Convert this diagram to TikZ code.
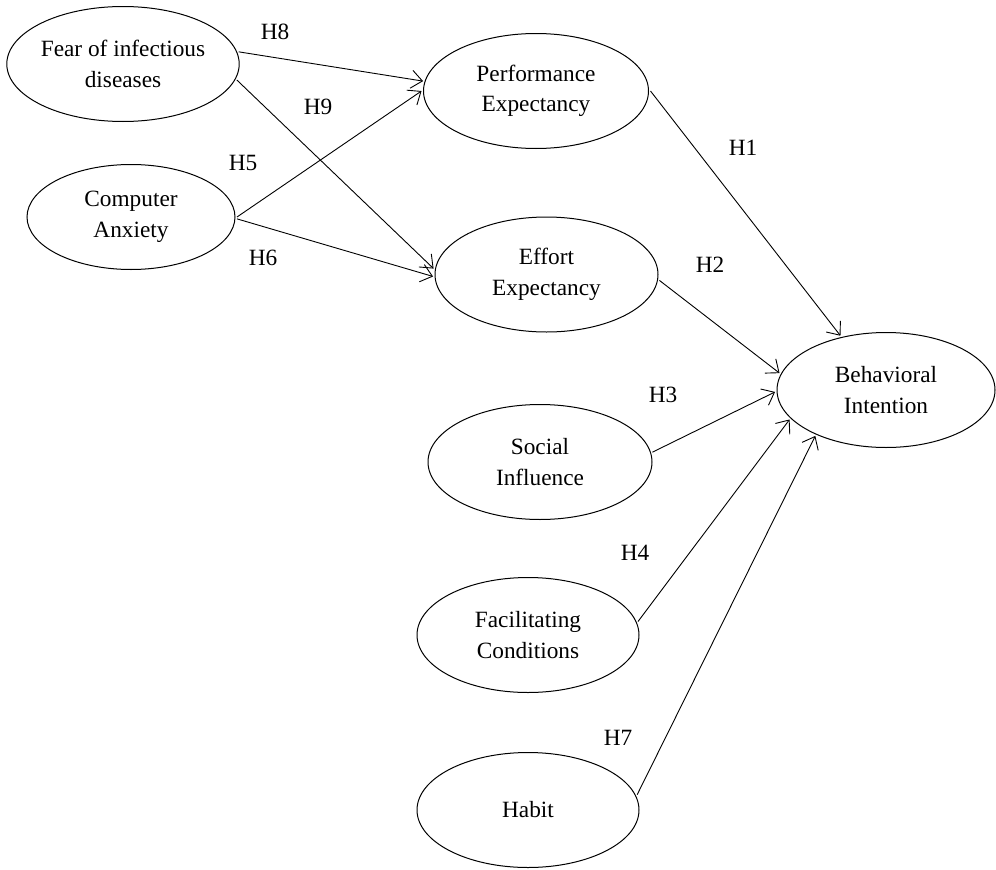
\documentclass[tikz,border=0pt]{standalone}
\usepackage{fontspec}
\setmainfont{Liberation Serif}
\usetikzlibrary{shapes.geometric,arrows.meta}
\begin{document}
\begin{tikzpicture}[x=1pt,y=-1pt,
  every node/.style={font=\fontsize{23.3}{30.5}\selectfont},
  var/.style={draw,ellipse,line width=1pt,inner sep=0pt,outer sep=2pt,align=center},
  hyp/.style={inner sep=0pt},
  link/.style={line width=0.9pt,-{Straight Barb[length=11pt,width=18pt,line width=0.9pt]}}]
\useasboundingbox (0,0) rectangle (996,870);
\node[var,minimum width=232pt,minimum height=115pt] (fear) at (123,64) {Fear of infectious\\diseases};
\node[var,minimum width=208pt,minimum height=105pt] (ca) at (131,217) {Computer\\Anxiety};
\node[var,minimum width=225pt,minimum height=115pt] (pe) at (536,91) {Performance\\Expectancy};
\node[var,minimum width=223pt,minimum height=115pt] (ee) at (546.5,274.5) {Effort\\Expectancy};
\node[var,minimum width=218pt,minimum height=115pt] (bi) at (886,390) {Behavioral\\Intention};
\node[var,minimum width=224pt,minimum height=115pt] (si) at (540,462) {Social\\Influence};
\node[var,minimum width=222pt,minimum height=115pt] (fc) at (528,635) {Facilitating\\Conditions};
\node[var,minimum width=222pt,minimum height=115pt] (hab) at (528,810) {Habit};
\draw[link] (fear.6) -- (pe.175);
\draw[link] (fear.-8) -- (ee.177);
\draw[link] (ca.0) -- (pe.180.5);
\draw[link] (ca.-1) -- (ee.181);
\draw[link] (pe.0) -- (bi.130);
\draw[link] (ee.-3) -- (bi.171);
\draw[link] (si.5) -- (bi.181.5);
\draw[link] (fc.7.3) -- (bi.197.5);
\draw[link] (hab.8.3) -- (bi.213);
\node[hyp] (h8) at (275,32) {H8};
\node[hyp] (h9) at (318,107) {H9};
\node[hyp] (h5) at (243,163) {H5};
\node[hyp] (h6) at (263,258) {H6};
\node[hyp] (h1) at (743,148) {H1};
\node[hyp] (h2) at (710,265) {H2};
\node[hyp] (h3) at (663,395) {H3};
\node[hyp] (h4) at (635,553) {H4};
\node[hyp] (h7) at (618,738) {H7};
\end{tikzpicture}
\end{document}
